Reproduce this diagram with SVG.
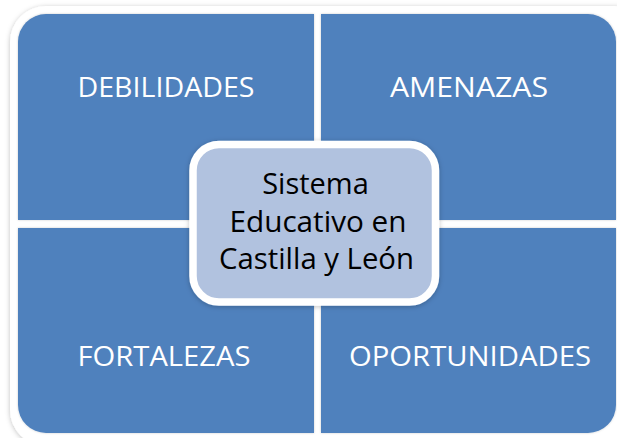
<svg xmlns="http://www.w3.org/2000/svg" width="617" height="438" viewBox="0 0 617 438">
  <defs>
    <filter id="sh" x="-10%" y="-10%" width="120%" height="120%">
      <feDropShadow dx="0" dy="1" stdDeviation="2.5" flood-color="#000" flood-opacity="0.25"/>
    </filter>
    <filter id="sh2" x="-5%" y="-5%" width="110%" height="110%">
      <feDropShadow dx="0" dy="0" stdDeviation="1.2" flood-color="#000" flood-opacity="0.2"/>
    </filter>
  </defs>
  <style>
    .q { fill: #4F81BD; }
    .ql { font-family: "Open Sans", "Noto Sans", sans-serif; font-size: 27px; fill: #FFFFFF; text-anchor: middle; }
    .ct { font-family: "Open Sans", "Noto Sans", sans-serif; font-size: 29px; fill: #000000; text-anchor: middle; }
  </style>
  <rect width="617" height="438" fill="#FFFFFF"/>
  <rect x="10" y="6" width="640" height="440" rx="36" ry="36" fill="#FFFFFF" filter="url(#sh)"/>
  <g id="debilidades">
    <path class="q" d="M18,42 A28,28 0 0 1 46,14 L314,14 L314,220 L18,220 Z" filter="url(#sh2)"/>
    <text class="ql" x="166" y="97" textLength="177" lengthAdjust="spacingAndGlyphs">DEBILIDADES</text>
  </g>
  <g id="amenazas">
    <path class="q" d="M321,14 L588,14 A28,28 0 0 1 616,42 L616,220 L321,220 Z" filter="url(#sh2)"/>
    <text class="ql" x="469" y="97" textLength="158" lengthAdjust="spacingAndGlyphs">AMENAZAS</text>
  </g>
  <g id="fortalezas">
    <path class="q" d="M18,228 L314,228 L314,433 L46,433 A28,28 0 0 1 18,405 Z" filter="url(#sh2)"/>
    <text class="ql" x="164" y="366" textLength="173" lengthAdjust="spacingAndGlyphs">FORTALEZAS</text>
  </g>
  <g id="oportunidades">
    <path class="q" d="M321,228 L616,228 L616,405 A28,28 0 0 1 588,433 L321,433 Z" filter="url(#sh2)"/>
    <text class="ql" x="470" y="366" textLength="242" lengthAdjust="spacingAndGlyphs">OPORTUNIDADES</text>
  </g>
  <g id="centro">
    <rect x="193" y="144.5" width="242.5" height="157.5" rx="26" ry="26" fill="#B1C2DF" stroke="#FFFFFF" stroke-width="7.5" filter="url(#sh)"/>
    <text class="ct" x="315.5" y="194">Sistema</text>
    <text class="ct" x="318" y="232" textLength="177" lengthAdjust="spacingAndGlyphs">Educativo en</text>
    <text class="ct" x="316.5" y="269" textLength="195" lengthAdjust="spacingAndGlyphs">Castilla y León</text>
  </g>
</svg>
